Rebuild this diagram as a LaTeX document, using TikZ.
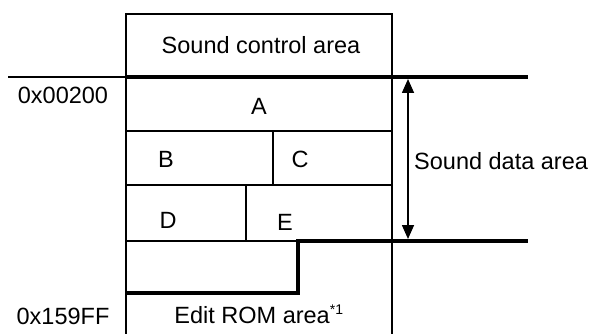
\documentclass[tikz,border=0pt]{standalone}
\usepackage{fontspec}
\setmainfont{Liberation Sans}
\usetikzlibrary{arrows.meta}
\begin{document}
\begin{tikzpicture}[x=1pt,y=-1pt,
  thinline/.style={line width=1.3pt},
  thickline/.style={line width=4pt},
  lbl/.style={inner sep=0pt,font=\fontsize{23.5}{28}\selectfont},
  dblarrow/.style={line width=1.6pt,{Triangle[length=14pt,width=12pt]}-{Triangle[length=14pt,width=12pt]}}]
\useasboundingbox (0,0) rectangle (592,334);
% box outline
\draw[thinline] (126,334) -- (126,14) -- (392,14) -- (392,334);
% top separator
\draw[thinline] (8,77) -- (126,77);
\draw[thickline] (126,77) -- (528,77);
% rows
\draw[thinline] (126,131) -- (392,131);
\draw[thinline] (273,131) -- (273,185);
\draw[thinline] (126,185) -- (392,185);
\draw[thinline] (246,185) -- (246,241);
\draw[thinline] (126,241) -- (298,241);
% step line
\draw[thickline] (126,293) -- (298,293) -- (298,241) -- (528,241);
% arrow
\coordinate (atop) at (408,79);
\coordinate (abot) at (408,239);
\draw[dblarrow] (atop) -- (abot);
% texts
\node[lbl] (ctrl) at (261,45) {Sound control area};
\node[lbl] (addr1) at (63,95) {0x00200};
\node[lbl] (A) at (259,106) {A};
\node[lbl] (B) at (166,159) {B};
\node[lbl] (C) at (300,159) {C};
\node[lbl] (D) at (168,220) {D};
\node[lbl] (E) at (285,222) {E};
\node[lbl,anchor=west] (data) at (414,161) {Sound data area};
\node[lbl] (addr2) at (63,316) {0x159FF};
\node[lbl] (rom) at (259,314) {Edit ROM area\textsuperscript{\fontsize{14}{16}\selectfont *1}};
\end{tikzpicture}
\end{document}
